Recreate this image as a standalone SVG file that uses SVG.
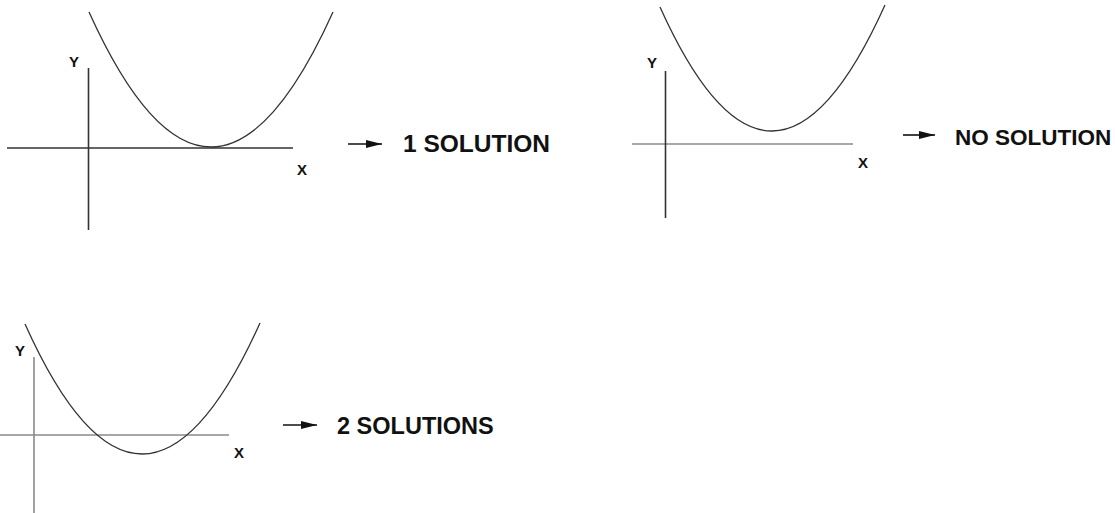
<svg xmlns="http://www.w3.org/2000/svg" width="1115" height="513" viewBox="0 0 1115 513">
<style>
.curve{fill:none;stroke:#333;stroke-width:1.3}
.axis{fill:none;stroke:#333;stroke-width:1.6}
.axisg{fill:none;stroke:#8a8a8a;stroke-width:1.6}
.ax{font-family:"Liberation Sans",Arial,sans-serif;font-weight:bold;font-size:15px;fill:#111;text-anchor:middle}
.res{font-family:"Liberation Sans",Arial,sans-serif;font-weight:bold;fill:#111}
.arr{stroke:#111;stroke-width:1.6;fill:none}
</style>
<defs>
<marker id="ah" markerUnits="userSpaceOnUse" markerWidth="18" markerHeight="10" refX="16" refY="5" orient="auto">
<path d="M0,1 L16,5 L0,9 Z" fill="#111"/>
</marker>
</defs>
<rect width="1115" height="513" fill="#fff"/>
<g id="graph-one">
<line class="axis" x1="7" y1="148" x2="293" y2="148"/>
<line class="axis" x1="88.5" y1="68" x2="88.5" y2="230"/>
<path class="curve" d="M89,12 Q211,282 333,12"/>
<text class="ax" x="74" y="67">Y</text>
<text class="ax" x="302" y="175">X</text>
</g>
<g id="label-one"><text class="res" x="403" y="152" font-size="24.5">1 SOLUTION</text></g>
<g id="graph-none">
<line class="axisg" x1="632" y1="144" x2="853" y2="144"/>
<line class="axis" x1="665.5" y1="71" x2="665.5" y2="218"/>
<path class="curve" d="M660,7 Q772,256 885,5"/>
<text class="ax" x="652" y="68">Y</text>
<text class="ax" x="863" y="168">X</text>
</g>
<g id="label-none"><text class="res" x="955" y="144.5" font-size="22.5">NO SOLUTION</text></g>
<g id="graph-two">
<line class="axisg" x1="0" y1="435" x2="229" y2="435"/>
<line class="axisg" x1="34" y1="357" x2="34" y2="513"/>
<path class="curve" d="M25,324 Q142,584.5 260,323"/>
<text class="ax" x="20" y="356">Y</text>
<text class="ax" x="239" y="458">X</text>
</g>
<g id="label-two"><text class="res" x="337" y="434" font-size="23.5">2 SOLUTIONS</text></g>
<g id="connectors">
<line class="arr" x1="348" y1="144" x2="382" y2="144" marker-end="url(#ah)"/>
<line class="arr" x1="903" y1="135" x2="935" y2="135" marker-end="url(#ah)"/>
<line class="arr" x1="283" y1="425" x2="317" y2="425" marker-end="url(#ah)"/>
</g>
</svg>
